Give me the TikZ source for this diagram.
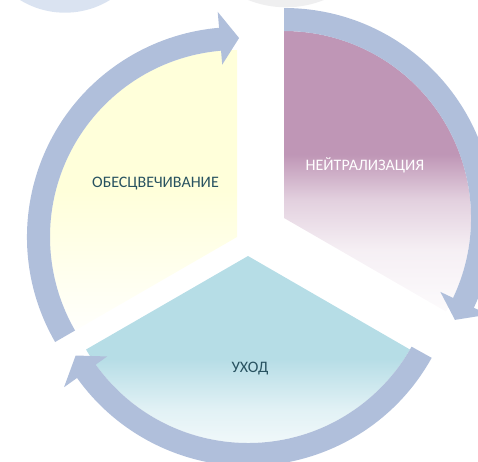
\documentclass[tikz,border=0pt]{standalone}
\usepackage{fontspec}
\setmainfont{Carlito}
\usepackage{tikz}
\definecolor{ringblue}{RGB}{176,191,219}
\definecolor{mauve}{RGB}{191,150,182}
\definecolor{cream}{RGB}{255,255,218}
\definecolor{aqua}{RGB}{182,221,230}
\definecolor{labelteal}{RGB}{40,82,96}
\definecolor{ballblue}{RGB}{218,227,241}
\definecolor{ballgray}{RGB}{239,239,240}
\pgfdeclareverticalshading{mauvefade}{100bp}{color(0bp)=(mauve!4!white); color(25bp)=(mauve!4!white); color(36bp)=(mauve!15!white); color(45bp)=(mauve!45!white); color(53bp)=(mauve); color(100bp)=(mauve)}
\pgfdeclareverticalshading{creamfade}{100bp}{color(0bp)=(cream!8!white); color(25bp)=(cream!8!white); color(50bp)=(cream); color(100bp)=(cream)}
\pgfdeclareverticalshading{aquafade}{100bp}{color(0bp)=(aqua!5!white); color(25bp)=(aqua!5!white); color(39bp)=(aqua!40!white); color(51bp)=(aqua); color(100bp)=(aqua)}
\newcommand{\sector}[4]{\shade[shading=#4] (#1) -- ++(#2:187pt) arc[start angle=#2, end angle=#3, radius=187pt] -- cycle;}
\newcommand{\cyclearrow}[3]{%
  \fill[ringblue, shift={(#1)}] (#2:210pt) arc[start angle=#2, end angle=#3+5.5, radius=210pt]
    -- (#3+5.5:226pt) -- (#3:199pt) -- (#3+5.5:173pt)
    -- (#3+5.5:187pt) arc[start angle=#3+5.5, end angle=#2, radius=187pt] -- cycle;}
\tikzset{label text/.style={font=\fontsize{16}{19}\selectfont, text=labelteal, anchor=base, inner sep=0pt}}

\begin{document}
\begin{tikzpicture}[x=1pt, y=1pt]
    \useasboundingbox (0,0) rectangle (478,-461);
    \clip (0,0) rectangle (478,-461);
    \fill[ballblue] (65,73.3) circle[radius=86pt];
    \fill[ballgray] (286,94.7) circle[radius=102pt];

    \coordinate (decolc) at (237,-237);
    \coordinate (neutc)  at (284,-218);
    \coordinate (carec)  at (248,-256);

    \sector{decolc}{90}{210}{creamfade}
    \sector{neutc}{90}{-30}{mauvefade}
    \sector{carec}{210}{330}{aquafade}

    \cyclearrow{decolc}{210}{89.4}
    \cyclearrow{neutc}{90}{-30.8}
    \cyclearrow{carec}{331}{210}

    \node (decol) at (155.5,-187) [label text] {ОБЕСЦВЕЧИВАНИЕ};
    \node (neut)  at (365,-170) [label text, text=white] {НЕЙТРАЛИЗАЦИЯ};
    \node (care)  at (250,-372) [label text] {УХОД};
\end{tikzpicture}
\end{document}
